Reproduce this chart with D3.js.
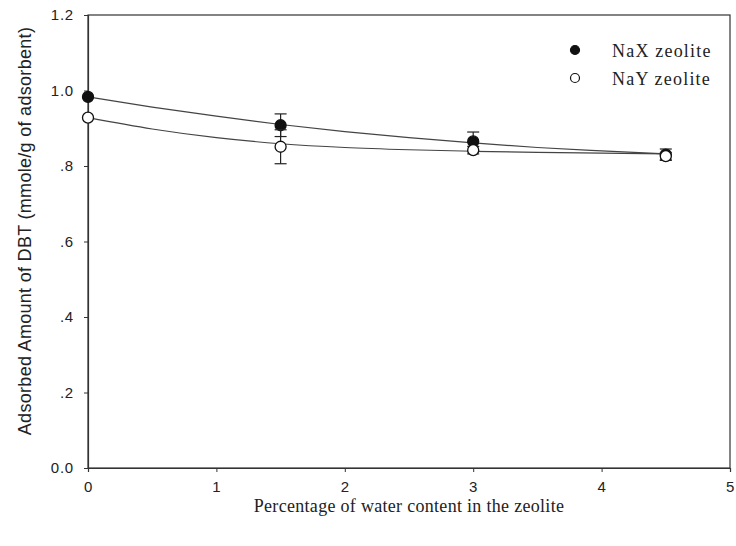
<!DOCTYPE html>
<html>
<head>
<meta charset="utf-8">
<script src="https://cdn.jsdelivr.net/npm/d3@7"></script>
<style>
  body { margin: 0; background: #fff; }
  svg { display: block; }
</style>
</head>
<body>
<svg id="chart" width="736" height="546"></svg>
<script>
// measured points (water content %, mmole/g)
const waterPct = [0, 1.5, 3, 4.5];
const naxValues = [0.983, 0.908, 0.865, 0.830];
const naxErr = [0, 0.030, 0.025, 0.015];
const nayValues = [0.928, 0.851, 0.842, 0.826];
const nayErr = [0, 0.045, 0.010, 0.010];

// fitted curves
const fitX = [0, 0.5, 1, 1.5, 2, 2.5, 3, 3.5, 4, 4.5];
const naxFit = [0.983, 0.956, 0.932, 0.910, 0.891, 0.875, 0.861, 0.849, 0.840, 0.832];
const nayFit = [0.928, 0.898, 0.875, 0.859, 0.849, 0.843, 0.839, 0.836, 0.834, 0.832];

const xTicks = [0, 1, 2, 3, 4, 5];
const yTicks = [0, 0.2, 0.4, 0.6, 0.8, 1.0, 1.2];
const yTickLabels = ["0.0", ".2", ".4", ".6", ".8", "1.0", "1.2"];

const svg = d3.select("#chart");
const plotL = 88, plotR = 730, plotT = 15, plotB = 468;

const x = d3.scaleLinear().domain([0, 5]).range([plotL, plotR]);
const y = d3.scaleLinear().domain([0, 1.2]).range([plotB, plotT]);

// frame
svg.append("rect")
  .attr("x", plotL).attr("y", plotT)
  .attr("width", plotR - plotL).attr("height", plotB - plotT)
  .attr("fill", "none").attr("stroke", "#333").attr("stroke-width", 1.2);

// axes
svg.append("g")
  .attr("transform", "translate(0," + plotB + ")")
  .call(d3.axisBottom(x).tickValues(xTicks).tickFormat(d3.format("d")).tickSizeOuter(0).tickSize(4).tickPadding(9));

svg.append("g")
  .attr("transform", "translate(" + plotL + ",0)")
  .call(d3.axisLeft(y).tickValues(yTicks).tickFormat((d, i) => yTickLabels[i]).tickSizeOuter(0).tickSize(4).tickPadding(10));

svg.selectAll(".domain").attr("stroke", "#333").attr("stroke-width", 1.2);
svg.selectAll(".tick line").attr("stroke", "#333");
svg.selectAll(".tick text")
  .attr("font-family", "'Liberation Sans', Arial, sans-serif")
  .attr("font-size", 15)
  .attr("letter-spacing", "0.8px")
  .attr("fill", "#222");

// axis titles
svg.append("text")
  .attr("transform", "translate(31,231) rotate(-90)")
  .attr("text-anchor", "middle")
  .style("font-family", "'Liberation Sans', Arial, sans-serif")
  .style("font-size", "18px").style("fill", "#222")
  .style("letter-spacing", "0.3px")
  .text("Adsorbed Amount of DBT (mmole/g of adsorbent)");

svg.append("text")
  .attr("x", 409).attr("y", 512)
  .attr("text-anchor", "middle")
  .style("font-family", "'Liberation Serif', 'Times New Roman', serif")
  .style("font-size", "18px").style("fill", "#222")
  .style("letter-spacing", "0.3px")
  .text("Percentage of water content in the zeolite");

// fitted lines
const line = d3.line().x((d, i) => x(fitX[i])).y(d => y(d)).curve(d3.curveMonotoneX);
[naxFit, nayFit].forEach(series => {
  svg.append("path")
    .attr("d", line(series))
    .attr("fill", "none").attr("stroke", "#444").attr("stroke-width", 1.2);
});

// error bars + markers
function drawSeries(values, errs, filled) {
  const g = svg.append("g");
  values.forEach((v, i) => {
    const cx = x(waterPct[i]);
    if (errs[i] > 0) {
      const y1 = y(v + errs[i]), y2 = y(v - errs[i]);
      g.append("line").attr("x1", cx).attr("x2", cx).attr("y1", y1).attr("y2", y2)
        .attr("stroke", "#222").attr("stroke-width", 1.2);
      [y1, y2].forEach(yy => {
        g.append("line").attr("x1", cx - 6).attr("x2", cx + 6).attr("y1", yy).attr("y2", yy)
          .attr("stroke", "#222").attr("stroke-width", 1.2);
      });
    }
    g.append("circle")
      .attr("cx", cx).attr("cy", y(v)).attr("r", 5.5)
      .attr("fill", filled ? "#111" : "#fff")
      .attr("stroke", "#111").attr("stroke-width", 1.3);
  });
}
drawSeries(naxValues, naxErr, true);
drawSeries(nayValues, nayErr, false);

// legend
const legend = [{ name: "NaX zeolite", filled: true }, { name: "NaY zeolite", filled: false }];
legend.forEach((d, i) => {
  const ly = 50 + i * 28;
  svg.append("circle").attr("cx", 575).attr("cy", ly).attr("r", 4.5)
    .attr("fill", d.filled ? "#111" : "#fff").attr("stroke", "#111").attr("stroke-width", 1.2);
  svg.append("text").attr("x", 612).attr("y", ly + 7)
    .style("font-family", "'Liberation Serif', 'Times New Roman', serif")
    .style("font-size", "18px").style("fill", "#222")
    .style("letter-spacing", "1.2px")
    .text(d.name);
});
</script>
</body>
</html>
